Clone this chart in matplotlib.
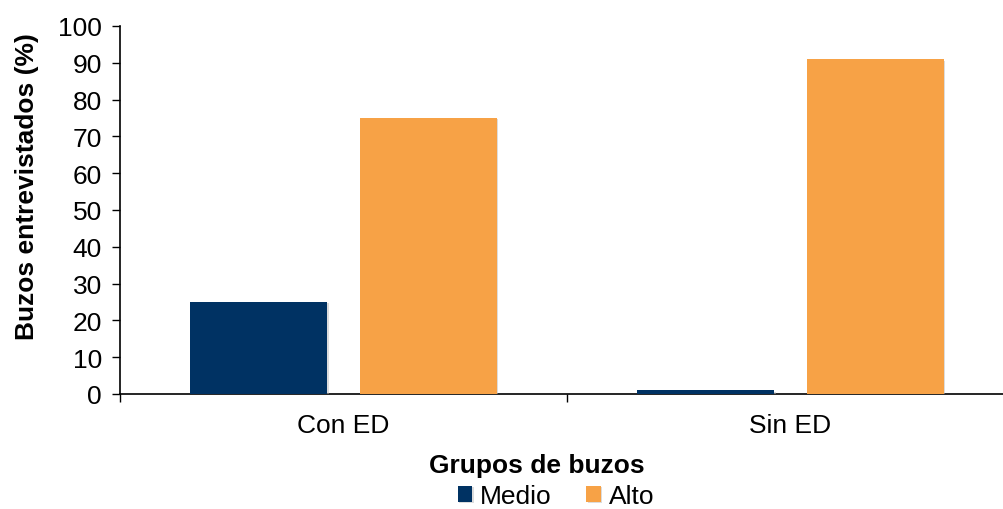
import numpy as np
import matplotlib
matplotlib.use('Agg')
import matplotlib.pyplot as plt
import matplotlib.patheffects as pe

plt.rcParams['font.family'] = ['Liberation Sans', 'DejaVu Sans']

# data
groups = ['Con ED', 'Sin ED']
medio = [25, 1]
alto = [75, 91]
series_names = ['Medio', 'Alto']
colors = ['#003263', '#F7A246']

W, H = 1004, 510
fig = plt.figure(figsize=(W / 100, H / 100), dpi=100)
ax = fig.add_axes([120 / W, 115 / H, 884 / W, 368 / H])

x = np.arange(len(groups))
bw = 0.307
b1 = ax.bar(x - 0.19, medio, bw, color=colors[0], label=series_names[0], zorder=3)
b2 = ax.bar(x + 0.19, alto, bw, color=colors[1], label=series_names[1], zorder=3)
for bar in list(b1) + list(b2):
    bar.set_path_effects([pe.SimplePatchShadow(offset=(1, -1), shadow_rgbFace='#bbbbbb', alpha=0.5), pe.Normal()])

ax.set_xlim(-0.5, -0.5 + 884 / 447)
ax.set_ylim(0, 100)
ax.set_yticks(range(0, 101, 10))
ax.set_xticks(x)
ax.set_xticklabels(groups)
ax.set_xticks([-0.5, 0.5], minor=True)
ax.tick_params(axis='x', which='major', length=0, pad=14, labelsize=19)
ax.tick_params(axis='x', which='minor', length=6, width=1, direction='out')
ax.tick_params(axis='y', length=6, width=1, direction='out', labelsize=19, pad=7)

for s in ['top', 'right']:
    ax.spines[s].set_visible(False)
ax.spines['left'].set_linewidth(1.2)
ax.spines['bottom'].set_linewidth(1.2)

fig.text(537 / W, 1 - 466 / H, 'Grupos de buzos', ha='center', va='center',
         fontsize=19, fontweight='bold')
fig.text(27 / W, 1 - 187 / H, 'Buzos entrevistados (%)', ha='center', va='center',
         rotation=90, fontsize=19, fontweight='bold')

fig.legend(handles=[b1, b2], labels=series_names, loc='center', ncol=2,
           bbox_to_anchor=(556 / W, 1 - 497 / H), frameon=False, fontsize=19,
           handlelength=0.55, handleheight=0.55, handletextpad=0.3, columnspacing=1.3,
           borderpad=0, borderaxespad=0)

fig.savefig('out.png', dpi=100)
